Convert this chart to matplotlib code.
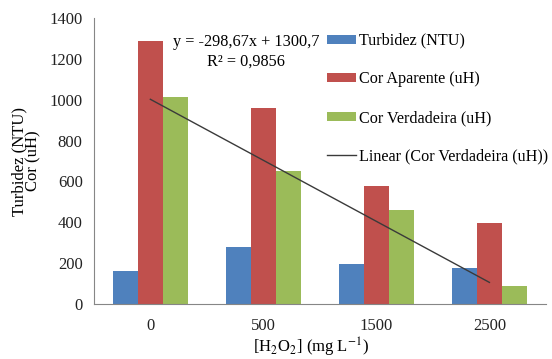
import matplotlib.pyplot as plt
import numpy as np

plt.rcParams['font.family'] = ['Liberation Serif', 'DejaVu Serif']
plt.rcParams['mathtext.fontset'] = 'stix'

doses = ['0', '500', '1500', '2500']
turbidez = [163, 280, 194, 178]
cor_aparente = [1289, 961, 578, 398]
cor_verdadeira = [1015, 652, 462, 87]

# linha de tendência (Cor Verdadeira)
a, b = -298.67, 1300.7
r2 = 0.9856

cinza = '#868686'
fig = plt.figure(figsize=(5.52, 3.59), dpi=100)
ax = fig.add_axes([0.170, 0.153, 0.819, 0.797])

x = np.arange(1, len(doses) + 1)
w = 0.222
b1 = ax.bar(x - w, turbidez, w, color='#4F81BD', label='Turbidez (NTU)')
b2 = ax.bar(x, cor_aparente, w, color='#C0504D', label='Cor Aparente (uH)')
b3 = ax.bar(x + w, cor_verdadeira, w, color='#9BBB59', label='Cor Verdadeira (uH)')

xt = np.array([x[0], x[-1]])
l1, = ax.plot(xt, a * xt + b, color='#3a3a3a', lw=1.0, label='Linear (Cor Verdadeira (uH))')

ax.text(1.845, 1282, 'y = -298,67x + 1300,7', fontsize=11.7, ha='center', va='center')
ax.text(1.845, 1185, 'R² = 0,9856', fontsize=11.7, ha='center', va='center')

ax.set_xlim(0.5, 4.5)
ax.set_ylim(0, 1400)
ax.set_yticks(range(0, 1401, 200))
ax.set_xticks(x)
ax.set_xticklabels(doses)
ax.tick_params(length=0, labelsize=12, colors='#222222', pad=8)
ax.tick_params(axis='x', pad=10)

for s in ['top', 'right']:
    ax.spines[s].set_visible(False)
for s in ['left', 'bottom']:
    ax.spines[s].set_color(cinza)

ax.set_ylabel('Turbidez (NTU)\nCor (uH)', fontsize=12, linespacing=0.85, labelpad=6)
ax.set_xlabel('[H$_2$O$_2$] (mg L$^{-1}$)', fontsize=12, labelpad=1, x=0.48)

ax.legend(handles=[b1, b2, b3, l1], loc='upper left', bbox_to_anchor=(0.515, 0.948),
          frameon=False, fontsize=11.6, handlelength=1.85, handleheight=0.5,
          handletextpad=0.15, labelspacing=1.4, borderaxespad=0, borderpad=0)

fig.savefig('out.png', dpi=100)
